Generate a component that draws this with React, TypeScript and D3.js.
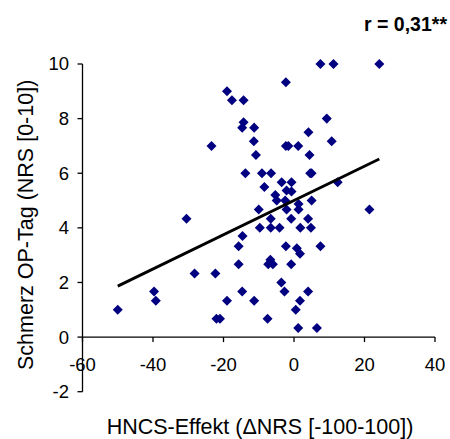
import React from "react";
import * as d3 from "d3";

const hncsEffekt: number[] = [
  7.5, 11.2, 24.2,
  -2.3,
  -19,
  -17.6, -14.3,
  9.3,
  -14.3, -14.7, -11.3,
  4.1,
  -11.4, 10.7,
  -23.4, -2.3, -1.6, 1.2,
  -10.8, 4.4,
  -13.8, -9.1, -6.5, 4.6, 5.0,
  12.4, -3.5, -0.7,
  -8.4,
  -2.1, -0.7,
  -5.3,
  -4.9, -2.5, 5.0,
  1.3,
  -10, -2.1, 1.3, 21.4,
  -30.5, -6.6, -0.8, 4.0,
  -9.7, -6.6, -4.1, 1.8, 4.8,
  -14.6,
  -15.7, -2.3, 7.5,
  0.8, 1.7,
  -6.7, -7.3, -6.0, -15.7, -0.8,
  -28.2, -22.3,
  -3.6,
  -39.7, -14.7, -2.7, 4.0,
  -39.2, -19, -11.3, 1.7,
  -50, 0.5,
  -22, -21, -7.5,
  1.2, 6.5,
];

const schmerzOpTag: number[] = [
  10, 10, 10,
  9.33,
  9,
  8.67, 8.67,
  8,
  7.87, 7.67, 7.67,
  7.5,
  7.17, 7.17,
  7, 7, 7, 7,
  6.67, 6.67,
  6, 6, 6, 6, 6,
  5.67, 5.67, 5.67,
  5.5,
  5.37, 5.33,
  5.2,
  5, 5, 5,
  4.87,
  4.67, 4.67, 4.67, 4.67,
  4.33, 4.33, 4.33, 4.33,
  4, 4, 4, 4, 4,
  3.7,
  3.33, 3.33, 3.33,
  3.25, 3.05,
  2.83, 2.67, 2.67, 2.67, 2.67,
  2.33, 2.33,
  2,
  1.67, 1.67, 1.67, 1.67,
  1.33, 1.33, 1.33, 1.33,
  1, 1,
  0.67, 0.67, 0.67,
  0.33, 0.33,
];

const xTicks: number[] = [-60, -40, -20, 0, 20, 40];
const yTicks: number[] = [-2, 0, 2, 4, 6, 8, 10];
const xTitle = "HNCS-Effekt (ΔNRS [-100-100])";
const yTitle = "Schmerz OP-Tag (NRS [0-10])";
const corrLabel = "r = 0,31**";

export default function App() {
  const width = 450;
  const height = 439;
  const x = d3.scaleLinear().domain([-60, 40]).range([82.5, 435]);
  const y = d3.scaleLinear().domain([-2, 10]).range([391.7, 64]);

  const points = hncsEffekt.map((v, i) => [v, schmerzOpTag[i]] as [number, number]);
  const mx = d3.mean(hncsEffekt)!;
  const my = d3.mean(schmerzOpTag)!;
  let sxy = 0, sxx = 0;
  points.forEach(([a, b]) => { sxy += (a - mx) * (b - my); sxx += (a - mx) * (a - mx); });
  const slope = sxy / sxx;
  const intercept = my - slope * mx;
  const [xMin, xMax] = d3.extent(hncsEffekt) as [number, number];
  const fitLine = d3.line<[number, number]>().x(d => x(d[0])).y(d => y(d[1]));
  const fitData: [number, number][] = [[xMin, intercept + slope * xMin], [xMax, intercept + slope * xMax]];

  const diamond = d3.symbol().type(d3.symbolDiamond2).size(64)();
  const font = "'Liberation Sans', Arial, sans-serif";
  const axisColor = "#000";

  return (
    <svg width={width} height={height} style={{ position: "absolute", left: 0, top: 0 }} fontFamily={font}>
      <rect width={width} height={height} fill="#fff" />
      {/* axes */}
      <line x1={x(-60)} x2={x(-60)} y1={y(10)} y2={y(-2)} stroke={axisColor} strokeWidth={1.3} />
      <line x1={x(-60)} x2={x(40)} y1={y(0)} y2={y(0)} stroke={axisColor} strokeWidth={1.3} />
      {yTicks.map(t => (
        <g key={"y" + t}>
          <line x1={x(-60) - 5} x2={x(-60)} y1={y(t)} y2={y(t)} stroke={axisColor} strokeWidth={1.3} />
          <text x={69} y={y(t)} dy="0.35em" textAnchor="end" fontSize={18.5} fill="#000">{t}</text>
        </g>
      ))}
      {xTicks.map(t => (
        <g key={"x" + t}>
          <line x1={x(t)} x2={x(t)} y1={y(0)} y2={y(0) + 5} stroke={axisColor} strokeWidth={1.3} />
          <text x={x(t)} y={y(0) + 27} dy="0.35em" textAnchor="middle" fontSize={18.5} fill="#000">{t}</text>
        </g>
      ))}
      {/* points */}
      {points.map((p, i) => (
        <path key={i} d={diamond!} transform={`translate(${x(p[0])},${y(p[1])})`} fill="#000080" />
      ))}
      {/* fit */}
      <path d={fitLine(fitData)!} stroke="#000" strokeWidth={2.8} fill="none" />
      {/* titles */}
      <text x={260} y={434} textAnchor="middle" fontSize={21.5} fill="#000">{xTitle}</text>
      <text transform={`translate(33,${(y(10) + y(-2)) / 2 - 3}) rotate(-90)`} textAnchor="middle" fontSize={21.5} fill="#000">{yTitle}</text>
      <text x={447} y={31} textAnchor="end" fontSize={19.5} fontWeight="bold" fill="#000">{corrLabel}</text>
    </svg>
  );
}
